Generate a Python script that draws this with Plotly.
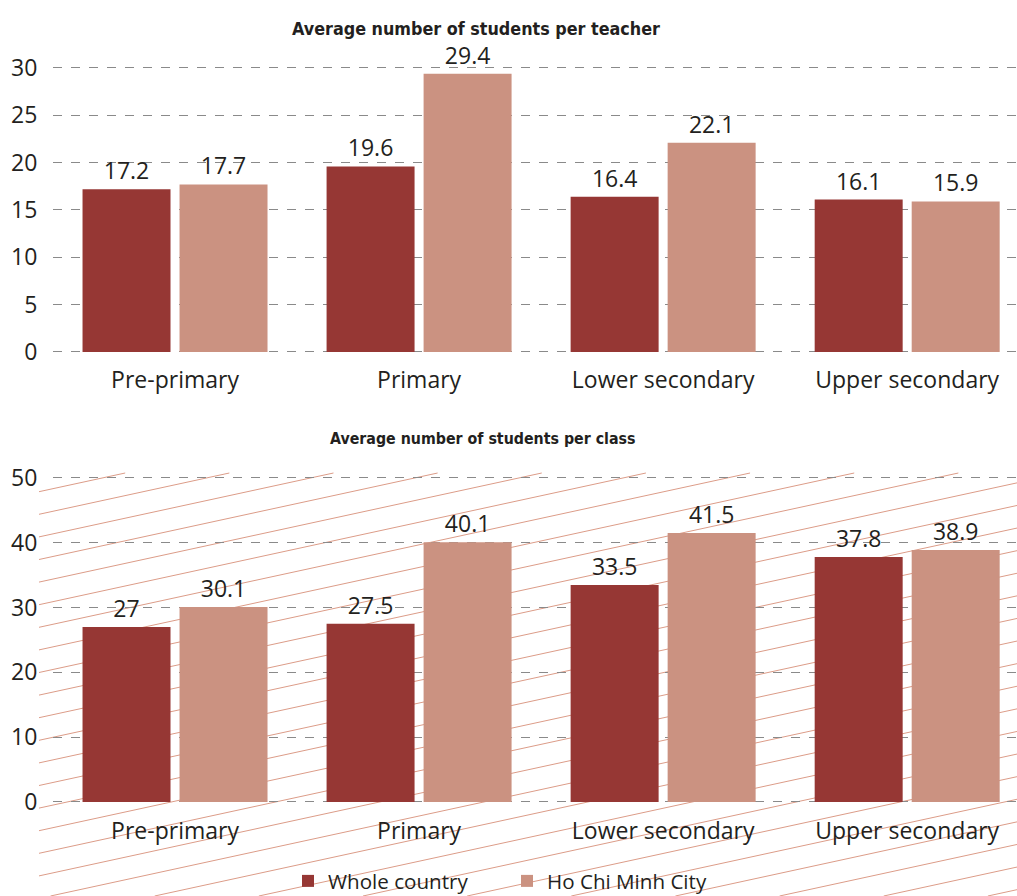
import plotly.graph_objects as go

W, H = 1017, 896

categories = ["Pre-primary", "Primary", "Lower secondary", "Upper secondary"]
series_names = ["Whole country", "Ho Chi Minh City"]
teacher_whole = [17.2, 19.6, 16.4, 16.1]
teacher_hcmc = [17.7, 29.4, 22.1, 15.9]
class_whole = [27, 27.5, 33.5, 37.8]
class_hcmc = [30.1, 40.1, 41.5, 38.9]
teacher_ticks = [0, 5, 10, 15, 20, 25, 30]
class_ticks = [0, 10, 20, 30, 40, 50]
titles = ["Average number of students per teacher", "Average number of students per class"]

DARK = "#963734"
LIGHT = "#cb9281"
TEXT = "#231f20"
FONT = "Open Sans"
TFONT = "DejaVu Sans Condensed, sans-serif"
FS = 23

fig = go.Figure()

def add_pair(whole, hcmc, xa, ya, show):
    for vals, name, col, lg in [(whole, series_names[0], DARK, "legend"),
                                (hcmc, series_names[1], LIGHT, "legend2")]:
        fig.add_trace(go.Bar(
            x=categories, y=vals, name=name, marker=dict(color=col, line=dict(width=0)),
            text=[f"{v:g}" for v in vals], textposition="outside", cliponaxis=False,
            textfont=dict(family=FONT, size=FS, color=TEXT),
            xaxis=xa, yaxis=ya, showlegend=show, legendgroup=name, legend=lg,
        ))

add_pair(teacher_whole, teacher_hcmc, "x", "y", True)
add_pair(class_whole, class_hcmc, "x2", "y2", False)

def px_x(x):
    return x / W

def px_y(y):
    return 1 - y / H

xcommon = dict(
    range=[-0.5, 3.45], domain=[px_x(53), 1.0], showgrid=False, zeroline=False,
    showline=False, ticks="outside", ticklen=6, tickcolor="rgba(0,0,0,0)",
    tickfont=dict(family=FONT, size=FS, color=TEXT), fixedrange=True,
)
ycommon = dict(
    showgrid=True, gridcolor="#8a8a8a", griddash="dash", gridwidth=1, zeroline=False,
    showline=False, ticks="outside", ticklen=10, tickcolor="rgba(0,0,0,0)",
    tickfont=dict(family=FONT, size=FS, color=TEXT), fixedrange=True,
)

# top: 0 at 352px, 30 at 68px ; bottom: 0 at 802px, 50 at 478px
t_ppu = (352 - 68) / 30
b_ppu = (802 - 478) / 50
t_pad, b_pad = 0.2, 0.3

legend_common = dict(orientation="h", xanchor="left", y=px_y(881), yanchor="middle",
                     font=dict(family=FONT, size=20.6, color=TEXT), bgcolor="rgba(0,0,0,0)",
                     itemwidth=30)

fig.update_layout(
    width=W, height=H, margin=dict(l=0, r=0, t=0, b=0, autoexpand=False),
    paper_bgcolor="white", plot_bgcolor="rgba(0,0,0,0)",
    barmode="group", bargap=0.205, bargroupgap=0.093,
    xaxis=dict(anchor="y", **xcommon),
    yaxis=dict(anchor="x", range=[-t_pad, 30 + t_pad], tickvals=teacher_ticks,
               domain=[px_y(352 + t_pad * t_ppu), px_y(68 - t_pad * t_ppu)], **ycommon),
    xaxis2=dict(anchor="y2", **xcommon),
    yaxis2=dict(anchor="x2", range=[-b_pad, 50 + b_pad], tickvals=class_ticks,
                domain=[px_y(802 + b_pad * b_ppu), px_y(478 - b_pad * b_ppu)], **ycommon),
    legend=dict(x=px_x(288), **legend_common),
    legend2=dict(x=px_x(507), **legend_common),
    font=dict(family=FONT, color=TEXT),
)

# Titles
for t, cx, cy, fs in [(titles[0], 476, 28, 17.8), (titles[1], 483, 438, 15.8)]:
    fig.add_annotation(text=f"<b>{t}</b>", x=px_x(cx), y=px_y(cy), xref="paper", yref="paper",
                       showarrow=False, xanchor="center", yanchor="middle",
                       font=dict(family=TFONT, size=fs, color=TEXT))

# Decorative diagonal hatch behind the lower chart
x0, x1, y0, y1 = 39.0, float(W), 473.0, float(H)
slope, spacing, start = 0.217, 22.6, 491.7
shapes = []
k = 0
while True:
    yl = start + k * spacing
    if yl - slope * (x1 - x0) > y1:
        break
    if yl <= y1:
        sx, sy = x0, yl
    else:
        sx = x0 + (yl - y1) / slope
        sy = y1
    xt = x0 + (yl - y0) / slope
    if xt <= x1:
        ex, ey = xt, y0
    else:
        ex, ey = x1, yl - slope * (x1 - x0)
    if sx < x1:
        shapes.append(dict(type="line", xref="paper", yref="paper",
                           x0=px_x(sx), y0=px_y(sy), x1=px_x(ex), y1=px_y(ey),
                           line=dict(color="#dc9c88", width=1), layer="between"))
    k += 1
fig.update_layout(shapes=shapes)

fig.write_html(
    "out.html",
    config={"displayModeBar": False},
    post_script="document.body.style.margin='0';document.body.style.overflow='hidden';",
)
